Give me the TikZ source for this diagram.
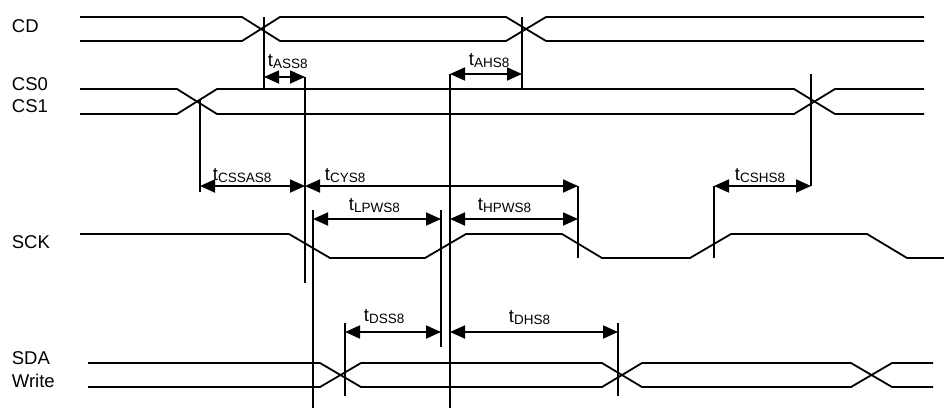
\documentclass[tikz,border=0pt]{standalone}
\usepackage{fontspec}
\setmainfont{Liberation Sans}
\usetikzlibrary{arrows.meta}
\newcommand{\tlab}[1]{t\raisebox{-2.5pt}{\fontsize{13.5}{14}\selectfont #1}}
\begin{document}
\begin{tikzpicture}[x=1pt, y=-1pt, line width=1.8pt,
		sig/.style={font=\fontsize{18.5}{20}\selectfont, anchor=base west, inner sep=0pt},
		lbl/.style={font=\fontsize{18.5}{20}\selectfont, anchor=base west, inner sep=0pt},
		dim/.style={arrows={Triangle[length=15pt,width=13pt]-Triangle[length=15pt,width=13pt]}}]
		\useasboundingbox (0,0) rectangle (944,410);
		
		% signal names
		\foreach \n/\y/\t in {cd/32/CD, cs0/90/CS0, cs1/112/CS1, sck/248/SCK, sda/364/SDA, wr/387/Write}
		\node[sig] (\n) at (11,\y) {\t};
		
		% CD
		\draw (80,17) -- (242,17) -- (280,41) -- (506,41) -- (546,17) -- (924,17);
		\draw (80,41) -- (242,41) -- (280,17) -- (506,17) -- (546,41) -- (924,41);
		% CS0, CS1
		\draw (80,89) -- (177,89) -- (217,114) -- (794,114) -- (835,89) -- (924,89);
		\draw (80,114) -- (177,114) -- (217,89) -- (794,89) -- (835,114) -- (924,114);
		% SCK
		\draw (80,234) -- (289,234) -- (330,258) -- (425,258) -- (466,234) -- (562,234) -- (602,258)
		-- (690,258) -- (731,234) -- (867,234) -- (907,258) -- (944,258);
		% SDA
		\draw (88,363) -- (320,363) -- (361,387) -- (602,387) -- (642,363) -- (851,363) -- (892,387) -- (933,387);
		\draw (88,387) -- (320,387) -- (361,363) -- (602,363) -- (642,387) -- (851,387) -- (892,363) -- (933,363);
		
		% reference lines
		\foreach \x/\a/\b in {264/17/89, 522/17/89, 200/100/192, 811/74/186, 305/77/283, 313/210/408,
			441/210/347, 450/74/408, 578/186/258, 714/186/258, 345/323/396, 618/323/396}
		\draw (\x,\a) -- (\x,\b);
		
		% timings
		\foreach \a/\b/\y/\lx/\ly/\t in {264/305/77/267/66/ASS8, 450/522/74/468/65/AHS8,
			200/305/186/212/180/CSSAS8, 305/578/186/324/180/CYS8, 714/811/186/734/180/CSHS8,
			313/441/219/348/210/LPWS8, 450/578/219/477/210/HPWS8,
			345/441/332/363/321/DSS8, 450/618/332/508/322/DHS8}{
			\draw[dim] (\a,\y) -- (\b,\y);
			\node[lbl] (\t) at (\lx,\ly) {\tlab{\t}};
		}
	\end{tikzpicture}
\end{document}
